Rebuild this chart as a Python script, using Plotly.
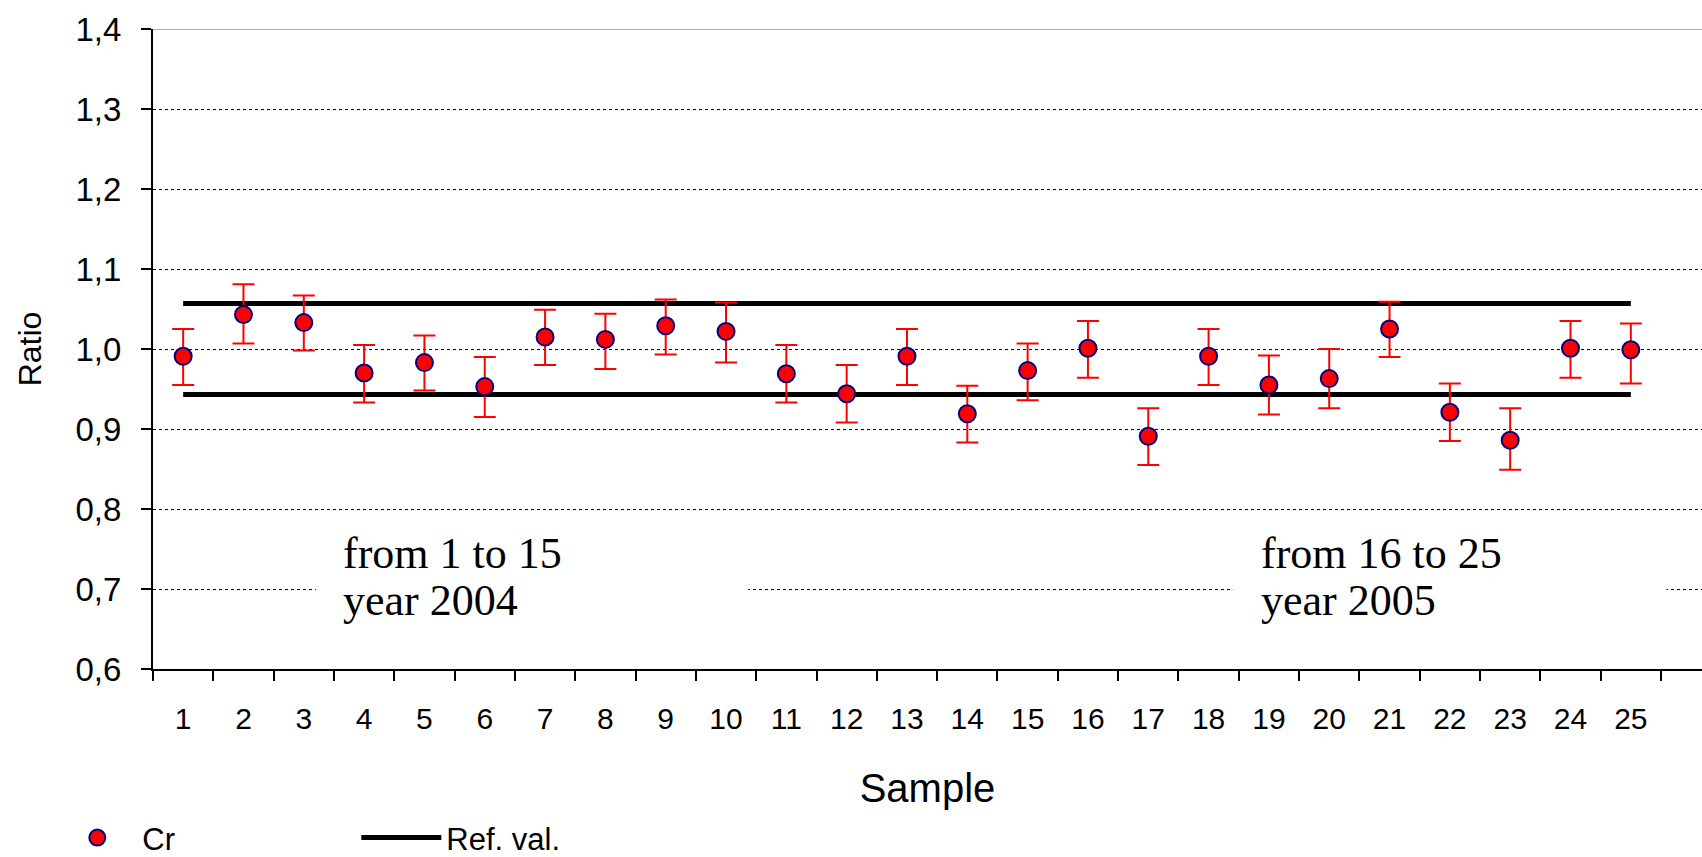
import plotly.graph_objects as go

samples = list(range(1, 26))
tick_labels = [str(s) for s in samples]
cr_values = [0.991, 1.043, 1.033, 0.970, 0.983, 0.953, 1.015, 1.012, 1.029, 1.022,
             0.969, 0.944, 0.991, 0.919, 0.973, 1.001, 0.891, 0.991, 0.955, 0.963,
             1.025, 0.921, 0.886, 1.001, 0.999]
err_plus = [0.034, 0.038, 0.034, 0.035, 0.034, 0.037, 0.034, 0.032, 0.033, 0.036,
            0.036, 0.036, 0.034, 0.035, 0.034, 0.034, 0.035, 0.034, 0.037, 0.037,
            0.034, 0.036, 0.040, 0.034, 0.033]
err_minus = [0.036, 0.036, 0.035, 0.037, 0.035, 0.038, 0.035, 0.037, 0.036, 0.039,
             0.036, 0.036, 0.036, 0.036, 0.037, 0.037, 0.036, 0.036, 0.037, 0.037,
             0.035, 0.036, 0.037, 0.037, 0.042]
ref_upper = 1.057
ref_lower = 0.943
y_ticks = [0.6, 0.7, 0.8, 0.9, 1.0, 1.1, 1.2, 1.3, 1.4]
y_tick_labels = ["0,6", "0,7", "0,8", "0,9", "1,0", "1,1", "1,2", "1,3", "1,4"]
notes_2004 = ["from 1 to 15", "year 2004"]
notes_2005 = ["from 16 to 25", "year 2005"]

fig = go.Figure()

ref_x = samples + [None] + samples
ref_y = [ref_upper] * len(samples) + [None] + [ref_lower] * len(samples)

fig.add_trace(go.Scatter(
    x=ref_x, y=ref_y, mode="lines", name="Ref. val.",
    line=dict(color="black", width=5),
))
fig.add_trace(go.Scatter(
    x=samples, y=cr_values, mode="markers", name="Cr",
    marker=dict(size=17, color="#ff0000", line=dict(color="#000080", width=2)),
    error_y=dict(type="data", symmetric=False, array=err_plus, arrayminus=err_minus,
                 color="#ff0000", thickness=2, width=11),
))

# top gridline at 1.4
fig.add_shape(type="line", xref="paper", yref="y", x0=0, x1=1, y0=1.4, y1=1.4,
              line=dict(color="#999999", width=1.5), layer="between")

# white boxes behind the notes (hide gridline)
for x0, x1 in [(3.2, 10.37), (18.41, 25.59)]:
    fig.add_shape(type="rect", xref="x", yref="y", x0=x0, x1=x1, y0=0.62, y1=0.78,
                  fillcolor="white", line=dict(width=0), layer="between")

for xpos, lines in [(3.62, notes_2004), (18.83, notes_2005)]:
    for ypos, txt in zip([0.745, 0.6855], lines):
        fig.add_annotation(x=xpos, y=ypos, xref="x", yref="y", text=txt,
                           showarrow=False, xanchor="left", yanchor="middle",
                           font=dict(family="Liberation Serif", size=44, color="black"))

fig.update_layout(
    width=1702, height=857,
    margin=dict(l=153, r=0, t=29, b=188, autoexpand=False),
    plot_bgcolor="white", paper_bgcolor="white",
    font=dict(family="Liberation Sans", color="black"),
    showlegend=True,
    legend=dict(orientation="h", x=-0.065, xanchor="left", y=-0.264, yanchor="middle",
                font=dict(size=31, family="Liberation Sans"),
                itemwidth=80, entrywidth=209, entrywidthmode="pixels",
                traceorder="reversed"),
)

fig.update_xaxes(
    range=[0.5, 26.18], automargin=False,
    tickmode="array", tickvals=samples, ticktext=tick_labels,
    ticks="", tickfont=dict(size=30, family="Liberation Sans"),
    ticklabelstandoff=22,
    showgrid=False, zeroline=False,
    showline=True, linecolor="black", linewidth=2,
    minor=dict(tick0=0.5, dtick=1, ticks="outside", ticklen=10, tickcolor="black",
               tickwidth=1.5, showgrid=False),
    title=dict(text="Sample", font=dict(size=40, family="Liberation Sans"), standoff=40),
)
fig.update_yaxes(
    range=[0.6, 1.4], automargin=False,
    tickmode="array", tickvals=y_ticks, ticktext=y_tick_labels,
    ticks="outside", ticklen=10, tickcolor="black", tickwidth=1.5,
    tickfont=dict(size=33, family="Liberation Sans"),
    ticklabelstandoff=13,
    showgrid=True, gridcolor="#000000", griddash="dot", gridwidth=1,
    zeroline=False,
    showline=True, linecolor="black", linewidth=2,
    title=dict(text="Ratio", font=dict(size=32, family="Liberation Sans"), standoff=24),
)

fig.write_html("out.html", config={"displayModeBar": False},
               post_script="document.body.style.margin='0';document.body.style.overflow='hidden';")
